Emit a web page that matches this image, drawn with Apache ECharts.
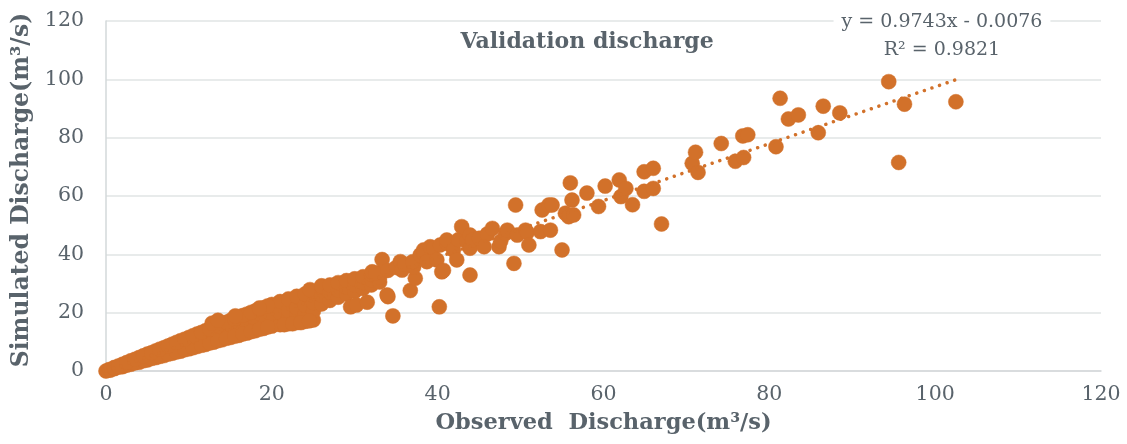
<!DOCTYPE html>
<html>
<head>
<meta charset="utf-8">
<script src="https://cdn.jsdelivr.net/npm/echarts@6/dist/echarts.min.js"></script>
<style>
html,body{margin:0;padding:0;background:#fff;}
#chart{width:1127px;height:444px;}
</style>
</head>
<body>
<div id="chart"></div>
<script>
// ---- data ----
const xTicks = [0, 20, 40, 60, 80, 100, 120];
const yTicks = [0, 20, 40, 60, 80, 100, 120];

// low-flow band [observed, simulated]
const lowFlowPairs = [
  [0,0],[0.4,0.5],[0.5,0.3],
  [1,0.8],[1,1.0],[1,1.2],
  [2,1.5],[2,1.9],[2,2.3],
  [3,2.3],[3,2.9],[3,3.5],
  [4,3.0],[4,3.8],[4,4.6],
  [5,3.8],[5,4.8],[5,5.8],
  [6,4.6],[6,5.7],[6,6.9],
  [7,5.3],[7,6.7],[7,8.0],
  [8,6.1],[8,7.6],[8,9.2],
  [9,6.8],[9,8.6],[9,10.4],
  [10,7.6],[10,9.6],[10,11.5],
  [11,8.4],[11,10.5],[11,12.7],
  [12,9.1],[12,11.4],[12,13.8],
  [13,9.9],[13,12.4],[13,15.0],
  [14,10.7],[14,13.4],[14,16.2],
  [15,11.5],[15,14.4],[15,17.3],
  [16,12.2],[16,15.3],[16,18.4],
  [17,13.0],[17,16.3],[17,19.5],
  [18,13.8],[18,17.2],[18,20.6],
  [19,14.6],[19,18.2],[19,21.7],
  [20,15.4],[20,19.1],[20,22.8],
  [21,15.9],[21,19.9],[21,23.8],
  [22,16.2],[22,18.5],[22,20.8],[22,24.7],
  [23,16.6],[23,19.2],[23,21.7],[23,25.6],
  [24,17.0],[24,19.8],[24,22.6],[24,26.4],
  [25,17.5],[25,20.5],[25,23.4],[25,27.3],
  [1.5,1.3],[2.5,2.0],[3.5,2.8],[4.5,3.5],[5.5,4.3],[6.5,5.0],[7.5,5.8],
  [8.5,6.5],[9.5,7.3],[10.5,8.0],[11.5,8.8],[12.5,9.6],[13.5,10.4],
  [14.5,11.2],[15.5,11.9],[16.5,12.7],[17.5,13.5],[18.5,14.3],[19.5,15.1],
  [1.5,1.7],[2.5,2.9],[3.5,4.0],[4.5,5.2],[5.5,6.3],[6.5,7.5],[7.5,8.6],
  [8.5,9.8],[9.5,10.9],[10.5,12.1],[11.5,13.2],[12.5,14.4],[13.5,15.6],
  [14.5,16.7],[15.5,17.8],[16.5,19.0],[17.5,20.1],[18.5,21.2],[19.5,22.3],
  [12.8,16.4],[13.5,17.4],[15.6,18.9],[18.5,21.6],[24.6,27.9],
  [21.5,15.9],[22.5,16.2],[23.5,16.6],[24.5,17.2]
];

// medium flows [observed, simulated]
const midFlowPairs = [
  [26,23.0],[26,25.9],[26,28.6],[26,29.2],
  [27,24.2],[27,26.9],[27,29.5],
  [28,25.3],[28,27.8],[28,30.3],
  [29,26.4],[29,28.7],[29,31.0],
  [30,27.3],[30,29.5],[30,31.6],
  [31,28.3],[31,30.3],[31,32.3],
  [32,29.5],[32,31.2],[32,33.0],
  [33,30.5],[33,32.2],[33,33.8],
  [29.5,22.0],[30.2,22.6],[31.5,23.6],[34.0,25.5],[33.9,26.1],[34.6,18.9],
  [36.7,27.6],[37.3,31.8],[40.2,22.0],
  [32.1,34.0],[32.5,33.5],[33.3,38.2],[34,34.5],[35,35.5],[35.5,37.5],
  [35.7,34.6],[36,36.5],[37.1,35.7],[37,37.5],[37.9,39.8],[38.3,40.3],
  [38.3,41.5],[38.7,37.5],[39.1,42.6],[39.5,42.1],[39.9,38.1],[40.3,43.2],
  [40.5,34.0],[40.7,34.5],[41.1,43.8],[41.1,44.9],[41.9,41.5],[42.3,38.1],
  [42.5,45.0],[42.9,49.5],[43.5,44.5],[43.9,46.6],[43.9,42.1],[43.9,32.9],
  [44.2,44.9],[45.0,45.5],[45.6,42.6],[46.0,47.0],[46.6,48.9],[47.4,42.6],
  [47.6,44.5],[48.2,47.2],[48.4,48.3],[49.2,36.9],[49.4,56.9],[49.6,46.6],
  [50.6,48.3],[50.8,47.5],[51.0,43.2]
];

// high flows [observed, simulated]
const highFlowPairs = [
  [52.4,47.8],[52.6,55.2],[53.4,56.9],[53.6,48.3],[53.8,56.9],[55.0,41.5],
  [55.4,54.1],[55.8,52.9],[56.0,64.5],[56.2,58.6],[56.4,53.5],[58.0,61.0],
  [59.4,56.4],[60.2,63.4],[61.9,65.5],[62.1,59.8],[62.7,62.6],[63.5,57.0],
  [64.9,68.3],[64.9,61.6],[66.0,69.5],[66.0,62.6],[67.0,50.4],[70.7,71.2],
  [71.1,75.0],[71.4,68.1],[74.2,78.0],[75.9,71.9],[76.9,73.2],[76.8,80.6],
  [77.4,81.0],[80.8,76.9],[81.3,93.5],[82.3,86.4],[83.5,87.8],[85.9,81.7],
  [86.5,90.8],[88.5,88.5],[94.4,99.2],[95.6,71.5],[96.3,91.5],[102.5,92.3]
];

// linear trend line reported on the chart
const trendSlope = 0.9743;
const trendIntercept = -0.0076;
const rSquared = 0.9821;

// ---- chart ----
const allPairs = lowFlowPairs.concat(midFlowPairs, highFlowPairs);
const xs = allPairs.map(p => p[0]);
const xMin = Math.min.apply(null, xs), xMax = Math.max.apply(null, xs);
const trendData = [xMin, xMax].map(x => [x, trendSlope * x + trendIntercept]);

const orange = '#D2712A';
const textGrey = '#59636B';
const gridGrey = '#E0E4E4';
const serif = '"DejaVu Serif", serif';

const chart = echarts.init(document.getElementById('chart'), null, {renderer: 'canvas'});
chart.setOption({
  animation: false,
  backgroundColor: '#ffffff',
  grid: {left: 106, right: 26, top: 21, bottom: 73, outerBoundsMode: 'none'},
  xAxis: {
    type: 'value', min: xTicks[0], max: xTicks[xTicks.length - 1], interval: 20,
    name: 'Observed  Discharge(m³/s)', nameLocation: 'middle', nameGap: 41,
    nameTextStyle: {fontFamily: serif, fontWeight: 'bold', fontSize: 22.5, color: textGrey},
    axisLine: {show: true, lineStyle: {color: '#D3D8DA', width: 1.5}},
    axisTick: {show: false},
    axisLabel: {fontFamily: serif, fontSize: 20.5, color: textGrey, margin: 13},
    splitLine: {show: false}
  },
  yAxis: {
    type: 'value', min: yTicks[0], max: yTicks[yTicks.length - 1], interval: 20,
    name: 'Simulated Discharge(m³/s)', nameLocation: 'middle', nameGap: 71,
    nameTextStyle: {fontFamily: serif, fontWeight: 'bold', fontSize: 23.5, color: textGrey, padding: [0, 0, 0, 12]},
    axisLine: {show: true, lineStyle: {color: '#D3D8DA', width: 1.5}},
    axisTick: {show: false},
    axisLabel: {fontFamily: serif, fontSize: 20.5, color: textGrey, margin: 22},
    splitLine: {show: true, lineStyle: {color: gridGrey, width: 1.5}}
  },
  series: [
    {
      type: 'scatter', data: allPairs, symbol: 'circle', symbolSize: 15,
      itemStyle: {color: orange, opacity: 1, borderColor: orange, borderWidth: 0.5},
      emphasis: {disabled: true}, z: 2
    },
    {
      type: 'line', data: trendData, symbol: 'none', z: 3,
      lineStyle: {color: orange, width: 3.5, type: [0.01, 8], cap: 'round', opacity: 1},
      emphasis: {disabled: true}
    }
  ],
  graphic: [
    {
      type: 'text', x: 587, y: 42, z: 10,
      style: {text: 'Validation discharge', fontFamily: serif, fontWeight: 'bold', fontSize: 22, fill: textGrey,
        align: 'center', verticalAlign: 'middle'}
    },
    {
      type: 'text', x: 942, y: 22, z: 10,
      style: {
        text: 'y = ' + trendSlope + 'x - ' + Math.abs(trendIntercept).toFixed(4),
        fontFamily: serif, fontSize: 19, fill: textGrey, align: 'center', verticalAlign: 'middle',
        backgroundColor: '#ffffff', padding: [2, 8]
      }
    },
    {
      type: 'text', x: 942, y: 50, z: 10,
      style: {
        text: 'R² = ' + rSquared,
        fontFamily: serif, fontSize: 19, fill: textGrey, align: 'center', verticalAlign: 'middle'
      }
    }
  ]
});
</script>
</body>
</html>
